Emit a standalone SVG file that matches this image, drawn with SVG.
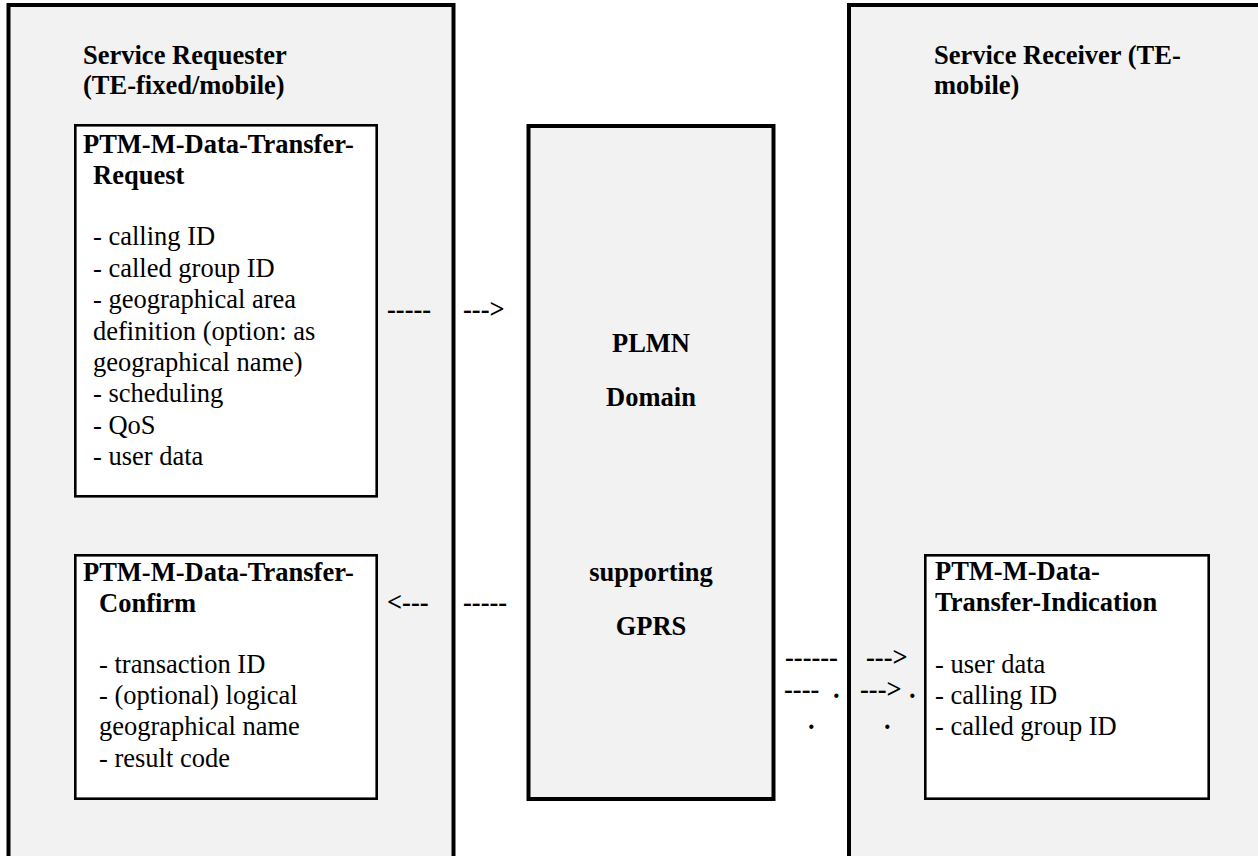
<svg xmlns="http://www.w3.org/2000/svg" width="1258" height="856" viewBox="0 0 1258 856">
<style>
text{font-family:"Liberation Serif","Times New Roman",serif;font-size:26.5px;fill:#000}
.b{font-weight:bold}
.outer{fill:#f2f2f2;stroke:#000;stroke-width:4}
.inner{fill:#fff;stroke:#000;stroke-width:2.6}
.c{text-anchor:middle}
</style>
<rect width="1258" height="856" fill="#fff"/>
<g id="service-requester">
<rect class="outer" x="8.5" y="5" width="445" height="900"/>
<text class="b" x="83" y="64">Service Requester</text>
<text class="b" x="83" y="94">(TE-fixed/mobile)</text>
</g>
<g id="service-receiver">
<rect class="outer" x="849" y="5" width="500" height="900"/>
<text class="b" x="934" y="64">Service Receiver (TE-</text>
<text class="b" x="934" y="94">mobile)</text>
</g>
<g id="plmn">
<rect class="outer" x="528.5" y="126" width="245" height="673"/>
<text class="b c" x="651" y="352">PLMN</text>
<text class="b c" x="651" y="406">Domain</text>
<text class="b c" x="651" y="581">supporting</text>
<text class="b c" x="651" y="635">GPRS</text>
</g>
<g id="request">
<rect class="inner" x="75.3" y="125.3" width="301.4" height="371"/>
<text class="b" x="83" y="153">PTM-M-Data-Transfer-</text>
<text class="b" x="93" y="184">Request</text>
<text x="93" y="245">- calling ID</text>
<text x="93" y="277">- called group ID</text>
<text x="93" y="308">- geographical area</text>
<text x="93" y="340">definition (option: as</text>
<text x="93" y="371">geographical name)</text>
<text x="93" y="402">- scheduling</text>
<text x="93" y="434">- QoS</text>
<text x="93" y="465">- user data</text>
</g>
<g id="confirm">
<rect class="inner" x="75.3" y="555.3" width="301.4" height="243.4"/>
<text class="b" x="83" y="581">PTM-M-Data-Transfer-</text>
<text class="b" x="99" y="612">Confirm</text>
<text x="99" y="673">- transaction ID</text>
<text x="99" y="704">- (optional) logical</text>
<text x="99" y="735">geographical name</text>
<text x="99" y="767">- result code</text>
</g>
<g id="indication">
<rect class="inner" x="925.3" y="555.3" width="283.4" height="243.4"/>
<text class="b" x="935" y="580">PTM-M-Data-</text>
<text class="b" x="935" y="611">Transfer-Indication</text>
<text x="935" y="673">- user data</text>
<text x="935" y="704">- calling ID</text>
<text x="935" y="735">- called group ID</text>
</g>
<g id="connectors">
<text class="b" x="387" y="318">-----</text>
<text class="b" x="463" y="318">---&gt;</text>
<text class="b" x="387" y="611">&lt;---</text>
<text class="b" x="463" y="611">-----</text>
<text class="b" x="785" y="666">------</text>
<text class="b" x="866" y="666">---&gt;</text>
<text class="b" x="784" y="698">----</text>
<text class="b" x="833" y="698">.</text>
<text class="b" x="860" y="698">---&gt;</text>
<text class="b" x="909" y="698">.</text>
<text class="b" x="808" y="729">.</text>
<text class="b" x="884" y="729">.</text>
</g>
</svg>
